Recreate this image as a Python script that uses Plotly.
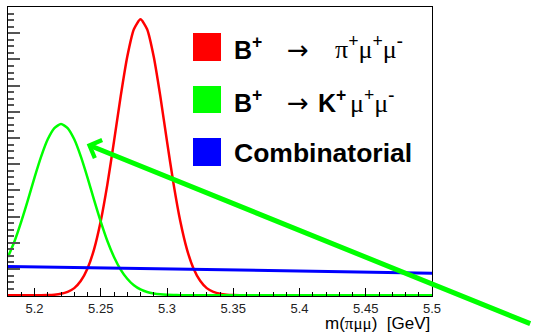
import plotly.graph_objects as go

# ---- data ----
mass_x = [5.18, 5.185, 5.19, 5.195, 5.20, 5.205, 5.21, 5.215, 5.22, 5.225,
          5.23, 5.235, 5.24, 5.245, 5.25, 5.255, 5.26, 5.265, 5.27, 5.275,
          5.28, 5.285, 5.29, 5.295, 5.30, 5.305, 5.31, 5.315, 5.32, 5.325,
          5.33, 5.335, 5.34, 5.345, 5.35, 5.355, 5.36, 5.38, 5.40, 5.45, 5.50]
bpimumu = [0.0, 0.0, 0.0, 0.0, 0.001, 0.003, 0.008, 0.022, 0.055, 0.13,
           0.27, 0.55, 1.02, 1.76, 2.83, 4.23, 5.87, 7.58, 9.10, 10.15,
           10.53, 10.15, 9.10, 7.58, 5.87, 4.23, 2.83, 1.76, 1.02, 0.55,
           0.27, 0.13, 0.055, 0.022, 0.008, 0.003, 0.001, 0.0, 0.0, 0.0, 0.0]
bkmumu = [1.46, 2.07, 2.81, 3.63, 4.49, 5.29, 5.95, 6.38, 6.53, 6.38,
          5.95, 5.29, 4.49, 3.63, 2.81, 2.07, 1.46, 0.98, 0.63, 0.38,
          0.22, 0.12, 0.066, 0.034, 0.016, 0.007, 0.003, 0.001, 0.0, 0.0,
          0.0, 0.0, 0.0, 0.0, 0.0, 0.0, 0.0, 0.0, 0.0, 0.0, 0.0]
comb_x = [5.18, 5.34, 5.50]
comb_y = [1.10, 0.97, 0.84]

xtick_vals = [5.2, 5.25, 5.3, 5.35, 5.4, 5.45, 5.5]
xtick_text = ["5.2", "5.25", "5.3", "5.35", "5.4", "5.45", "5.5"]

W, H = 533, 332
ML, MR, MT, MB = 8, 101, 7, 36
PW, PH = W - ML - MR, H - MT - MB


def px(x):
    return (x - ML) / PW


def py(y):
    return (H - MB - y) / PH


fig = go.Figure()
fig.add_trace(go.Scatter(x=mass_x, y=bpimumu, mode="lines", line=dict(color="#ff0000", width=2.5, shape="spline", smoothing=0.6), showlegend=False, hoverinfo="skip"))
fig.add_trace(go.Scatter(x=mass_x, y=bkmumu, mode="lines", line=dict(color="#00ff00", width=2.5, shape="spline", smoothing=0.6), showlegend=False, hoverinfo="skip"))
fig.add_trace(go.Scatter(x=comb_x, y=comb_y, mode="lines", line=dict(color="#0000ff", width=3), showlegend=False, hoverinfo="skip"))

SANS = "Liberation Sans, Arial, Helvetica, sans-serif"
SERIF = "Liberation Serif, Times New Roman, serif"
ARROWF = "DejaVu Sans, sans-serif"

# legend boxes
for color, (y0, y1) in zip(["#ff0000", "#00ff00", "#0000ff"], [(33, 61), (86, 113), (138, 166)]):
    fig.add_shape(type="rect", xref="paper", yref="paper", x0=px(193), x1=px(221), y0=py(y1), y1=py(y0),
                  fillcolor=color, line=dict(width=0), layer="above")

annots = []


def txt(x, y, s, size, family, anchor="left"):
    annots.append(dict(xref="paper", yref="paper", x=px(x), y=py(y), text=s, showarrow=False,
                       xanchor=anchor, yanchor="middle", font=dict(size=size, family=family, color="black")))


txt(232, 48, "<b>B<sup>+</sup></b>", 25, SANS)
txt(285, 50, "\u2192", 26, ARROWF)
txt(333, 48, "\u03c0<sup><b>+</b></sup>\u03bc<sup><b>+</b></sup>\u03bc<sup><b>-</b></sup>", 26, SERIF)
txt(232, 101, "<b>B<sup>+</sup></b>", 25, SANS)
txt(285, 103, "\u2192", 26, ARROWF)
txt(316, 101, "<b>K<sup>+</sup></b>", 25, SANS)
txt(348, 101, "\u03bc<sup><b>+</b></sup>\u03bc<sup><b>-</b></sup>", 26, SERIF)
txt(232, 153, "<b>Combinatorial</b>", 26.5, SANS)

# x-axis title
annots.append(dict(xref="paper", yref="paper", x=1.0, y=py(323.5), xanchor="right", yanchor="middle", showarrow=False,
                   text="m(<span style=\"font-family:Liberation Serif\">\u03c0\u03bc\u03bc</span>)  [GeV]",
                   font=dict(size=17, family=SANS, color="black")))

# arrow
annots.append(dict(x=5.2394, y=5.76, xref="x", yref="y", text="", showarrow=True,
                   ax=445, ay=180, axref="pixel", ayref="pixel",
                   arrowhead=4, arrowsize=0.75, arrowwidth=5, arrowcolor="#00ff00"))

fig.update_layout(
    width=W, height=H, margin=dict(l=ML, r=MR, t=MT, b=MB),
    paper_bgcolor="white", plot_bgcolor="white",
    annotations=annots,
    xaxis=dict(range=[5.18, 5.5], showgrid=False, zeroline=False, showline=True, linecolor="black", linewidth=1,
               mirror=True, ticks="inside", ticklen=8, tickcolor="black", tickwidth=1,
               tickvals=xtick_vals, ticktext=xtick_text,
               minor=dict(dtick=0.01, tick0=5.18, ticks="inside", ticklen=4, tickcolor="black"),
               tickfont=dict(size=13, family=SANS, color="#222")),
    yaxis=dict(range=[-0.03, 11], showgrid=False, zeroline=False, showline=True, linecolor="black", linewidth=1,
               mirror=True, ticks="inside", ticklen=12, tickcolor="#555", tickwidth=1.5, dtick=1, tick0=0,
               showticklabels=False,
               minor=dict(dtick=0.25, tick0=0, ticks="inside", ticklen=6, tickcolor="#555", tickwidth=1.5)),
)

fig.write_html("out.html")
